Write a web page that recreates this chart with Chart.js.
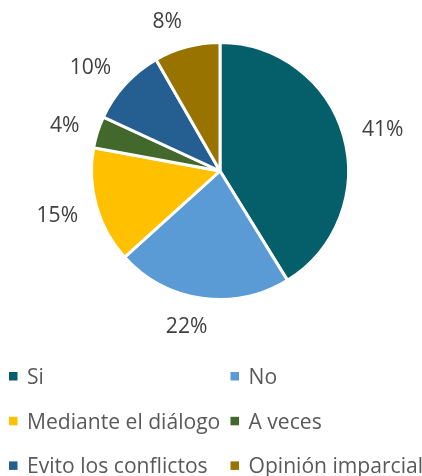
<!DOCTYPE html>
<html><head><meta charset="utf-8">
<script src="https://cdn.jsdelivr.net/npm/chart.js@4"></script>
<style>html,body{margin:0;padding:0;background:#fff;}#wrap{width:422px;height:476px;position:relative;}</style>
</head><body><div id="wrap"><canvas id="c" width="422" height="476"></canvas></div>
<script>
const categories = ["Si", "No", "Mediante el diálogo", "A veces", "Evito los conflictos", "Opinión imparcial"];
const values = [41.2, 22.1, 14.6, 4.0, 9.8, 8.3];
const valueLabels = values.map(v => Math.round(v) + "%");
const colors = ["#045F6A", "#5B9BD5", "#FFC000", "#43682B", "#255E91", "#997300"];

const FONT = "'Open Sans', sans-serif";
const mctx = document.createElement('canvas').getContext('2d');
mctx.font = "100px " + FONT;
const FS = Math.round(100 * 193 / mctx.measureText("Mediante el diálogo").width * 10) / 10;

function capHalf(ctx) {
  const m = ctx.measureText("0");
  return (m.actualBoundingBoxAscent || FS * 0.714) / 2;
}

const outsideLabels = {
  id: 'outsideLabels',
  afterDatasetsDraw(chart) {
    const ctx = chart.ctx;
    const meta = chart.getDatasetMeta(0);
    ctx.save();
    ctx.font = FS + "px " + FONT;
    ctx.fillStyle = "#404040";
    ctx.textAlign = "center";
    ctx.textBaseline = "alphabetic";
    const ch = capHalf(ctx);
    meta.data.forEach((arc, i) => {
      const p = arc.getProps(['x','y','startAngle','endAngle','outerRadius'], true);
      const mid = (p.startAngle + p.endAngle) / 2;
      const dx = Math.cos(mid), dy = Math.sin(mid);
      const txt = valueLabels[i];
      const hw = ctx.measureText(txt).width / 2;
      const D = p.outerRadius + 19;
      const sx = Math.max(-1, Math.min(1, dx * 4.3));
      const sy = dy;
      const cx = p.x + dx * D + hw * sx;
      const cy = p.y + dy * D + 8.5 * sy;
      ctx.fillText(txt, cx, cy + ch);
    });
    ctx.restore();
  }
};

const gridLegend = {
  id: 'gridLegend',
  afterDraw(chart) {
    const ctx = chart.ctx;
    ctx.save();
    ctx.font = FS + "px " + FONT;
    ctx.textAlign = "left";
    ctx.textBaseline = "alphabetic";
    const ch = capHalf(ctx);
    const colX = [9, 230.5];
    const rowY = [375.8, 420.6, 465.2];
    categories.forEach((c, i) => {
      const x = colX[i % 2], y = rowY[Math.floor(i / 2)];
      ctx.fillStyle = colors[i];
      ctx.fillRect(x, y - 3.8, 8.5, 8.5);
      ctx.fillStyle = "#595959";
      ctx.fillText(c, x + 18, y + ch);
    });
    ctx.restore();
  }
};

new Chart(document.getElementById('c'), {
  type: 'pie',
  data: {
    labels: categories,
    datasets: [{
      data: values,
      backgroundColor: colors,
      borderColor: "#ffffff",
      borderWidth: 3
    }]
  },
  options: {
    responsive: false,
    animation: false,
    layout: { padding: { left: 90, right: 72, top: 41, bottom: 175 } },
    plugins: { legend: { display: false }, tooltip: { enabled: false } }
  },
  plugins: [outsideLabels, gridLegend]
});
</script></body></html>
